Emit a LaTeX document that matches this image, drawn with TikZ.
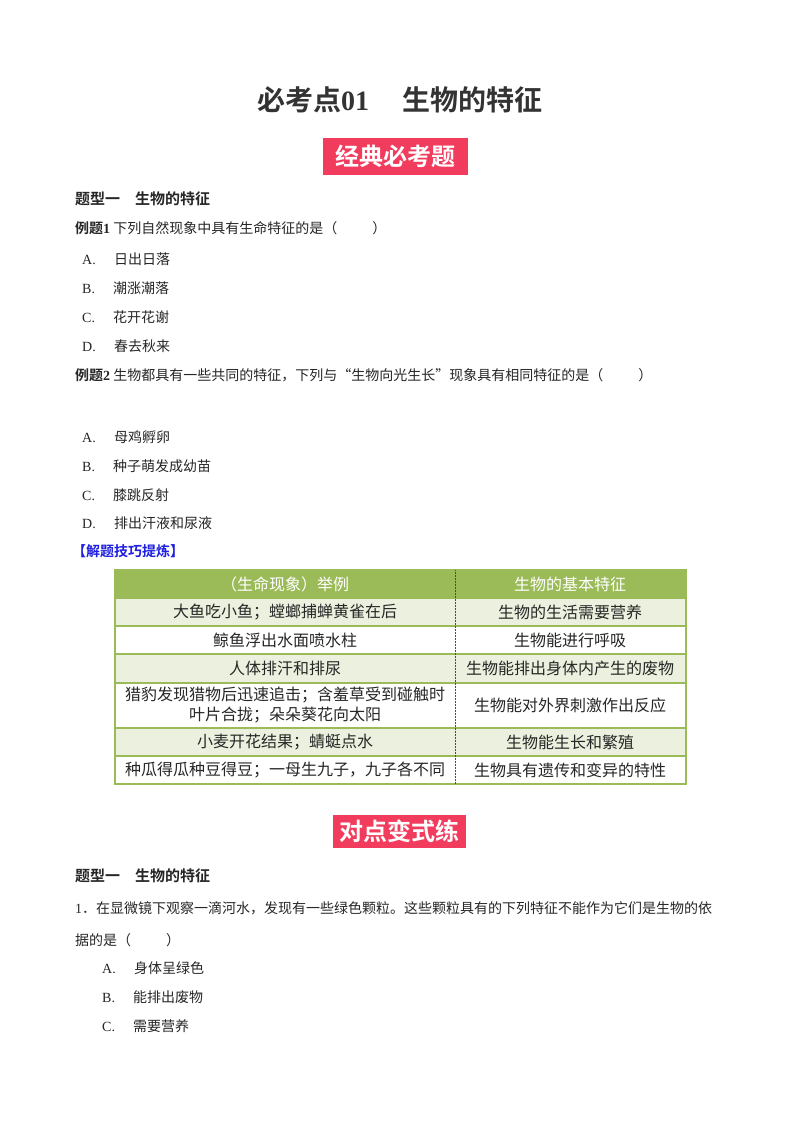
\documentclass[tikz,border=0pt]{standalone}
\usepackage{fontspec}
\setmainfont{Noto Sans CJK SC}
\newfontfamily\cjkb{Noto Sans CJK SC Bold}
\newfontfamily\latb{Liberation Serif Bold}
\newfontfamily\lat{Liberation Serif}
\definecolor{hdr}{HTML}{9BBB59}
\definecolor{alt}{HTML}{EBF1DE}
\definecolor{redb}{HTML}{F23C5E}
\definecolor{blu}{HTML}{1F1FE0}
\begin{document}
\begin{tikzpicture}[x=1pt,y=-1pt,
  txt/.style={anchor=west,inner sep=0pt,font=\fontsize{14}{16}\selectfont,text=black!85},
  hd/.style={anchor=west,inner sep=0pt,font=\fontsize{15}{17}\cjkb,text=black!85},
  cell/.style={inner sep=0pt,font=\fontsize{16}{18}\selectfont,text=black!85,align=center},
  badge/.style={fill=redb,text=white,font=\fontsize{24}{26}\cjkb,inner sep=0pt}]
\useasboundingbox (0,0) rectangle (800,1132);
\fill[white] (0,0) rectangle (800,1132);
\node[inner sep=0pt,font=\fontsize{28}{30}\cjkb,text=black!80] (title) at (400,100) {必考点{\latb 01}\hspace{1.2em}生物的特征};
\node[badge,minimum width=145pt,minimum height=37pt] (b1) at (395.5,156.5) {经典必考题};
\node[hd] (t1) at (75,199) {题型一\hspace{1em}生物的特征};
\node[txt] (e1) at (75,228) {{\cjkb 例题{\latb 1}}\ 下列自然现象中具有生命特征的是（\hspace{2.5em}）};
\node[txt] (a1) at (82,259) {{\lat A.}\hspace{1.3em}日出日落};
\node[txt] (b1t) at (82,288) {{\lat B.}\hspace{1.3em}潮涨潮落};
\node[txt] (c1) at (82,317) {{\lat C.}\hspace{1.3em}花开花谢};
\node[txt] (d1) at (82,346) {{\lat D.}\hspace{1.3em}春去秋来};
\node[txt] (e2) at (75,375) {{\cjkb 例题{\latb 2}}\ 生物都具有一些共同的特征，下列与“生物向光生长”现象具有相同特征的是（\hspace{2.5em}）};
\node[txt] (a2) at (82,437) {{\lat A.}\hspace{1.3em}母鸡孵卵};
\node[txt] (b2) at (82,466) {{\lat B.}\hspace{1.3em}种子萌发成幼苗};
\node[txt] (c2) at (82,495) {{\lat C.}\hspace{1.3em}膝跳反射};
\node[txt] (d2) at (82,523) {{\lat D.}\hspace{1.3em}排出汗液和尿液};
\node[hd,text=blu,font=\fontsize{14}{16}\cjkb] (tip) at (72,551) {【解题技巧提炼】};
% table
\fill[hdr] (115,570) rectangle (686,598);
\fill[alt] (115,598) rectangle (686,626);
\fill[alt] (115,654) rectangle (686,683);
\fill[alt] (115,728) rectangle (686,756);
\draw[hdr,line width=1.5pt] (115,570) rectangle (686,784);
\foreach \yy in {598,626,654,683,728,756} \draw[hdr,line width=1.5pt] (115,\yy) -- (686,\yy);
\draw[black!70,densely dotted,line width=0.5pt] (455,570) -- (455,784);
\node[cell,text=white] (h1) at (285,584) {（生命现象）举例};
\node[cell,text=white] (h2) at (570,584) {生物的基本特征};
\node[cell] (r1a) at (285,612) {大鱼吃小鱼；螳螂捕蝉黄雀在后};
\node[cell] (r1b) at (570,612) {生物的生活需要营养};
\node[cell] (r2a) at (285,640) {鲸鱼浮出水面喷水柱};
\node[cell] (r2b) at (570,640) {生物能进行呼吸};
\node[cell] (r3a) at (285,668.5) {人体排汗和排尿};
\node[cell] (r3b) at (570,668.5) {生物能排出身体内产生的废物};
\node[cell,font=\fontsize{16}{20}\selectfont] (r4a) at (285,705.5) {猎豹发现猎物后迅速追击；含羞草受到碰触时\\叶片合拢；朵朵葵花向太阳};
\node[cell] (r4b) at (570,705.5) {生物能对外界刺激作出反应};
\node[cell] (r5a) at (285,742) {小麦开花结果；蜻蜓点水};
\node[cell] (r5b) at (570,742) {生物能生长和繁殖};
\node[cell] (r6a) at (285,770) {种瓜得瓜种豆得豆；一母生九子，九子各不同};
\node[cell] (r6b) at (570,770) {生物具有遗传和变异的特性};
\node[badge,minimum width=133pt,minimum height=33pt] (b2b) at (399.5,831.5) {对点变式练};
\node[hd] (t2) at (75,876) {题型一\hspace{1em}生物的特征};
\node[txt] (q1) at (75,908) {{\lat 1}．在显微镜下观察一滴河水，发现有一些绿色颗粒。这些颗粒具有的下列特征不能作为它们是生物的依};
\node[txt] (q1b) at (75,940) {据的是（\hspace{2.5em}）};
\node[txt] (qa) at (102,968) {{\lat A.}\hspace{1.3em}身体呈绿色};
\node[txt] (qb) at (102,997) {{\lat B.}\hspace{1.3em}能排出废物};
\node[txt] (qc) at (102,1026) {{\lat C.}\hspace{1.3em}需要营养};
\end{tikzpicture}
\end{document}
